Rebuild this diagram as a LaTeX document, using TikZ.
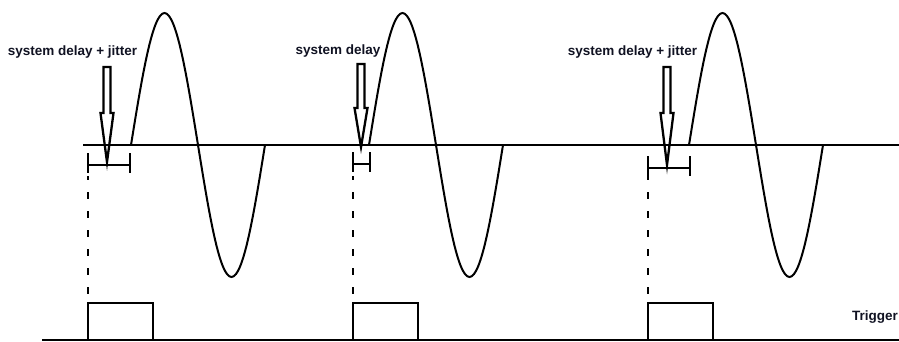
\documentclass[tikz,border=0pt]{standalone}
\usepackage{fontspec}
\setmainfont{Liberation Sans}
\usepackage{tikz}
\definecolor{labelink}{RGB}{16,18,34}

\begin{document}
\begin{tikzpicture}[x=1pt,y=-1pt,line width=2.3pt,
                      every node/.style={font=\bfseries\fontsize{13.5}{16}\selectfont,text=labelink}]
    \useasboundingbox (0,0) rectangle (899,341);
    % signal axis and trigger base line
    \draw (83,145)--(899,145);
    \draw (42,340)--(899,340);
    % one period of the sine after each delay
    \foreach \s in {131,369,689}
      \draw[line width=2pt] (\s,145) sin (\s+33.5,13) cos (\s+67,145)
                                   sin (\s+100.5,277) cos (\s+134,145);
    % delay brackets
    \foreach \a/\b/\y in {88/130/165,353/370/164,648/690/168} {
      \draw (\a,\y-12)--(\a,\y+8);
      \draw (\b,\y-12)--(\b,\y+8);
      \draw (\a,\y)--(\b,\y);
    }
    % block arrows
    \foreach \x/\t/\h/\p in {107/67/113/162,361/64/108/147,667/67/113/165}
      \draw[line join=miter] (\x-3.5,\t)--(\x+3.5,\t)--(\x+3.5,\h)--(\x+6.5,\h)
                             --(\x,\p)--(\x-6.5,\h)--(\x-3.5,\h)--cycle;
    % dashed drops and trigger pulses
    \foreach \x in {88,353,648} {
      \draw[dash pattern=on 7pt off 12pt,dash phase=3pt] (\x,176)--(\x,296);
      \draw (\x,340)--(\x,303)--(\x+65,303)--(\x+65,340);
    }
    \node (lbljit1) at (72.5,52) {system delay + jitter};
    \node (lbldel) at (338,51) {system delay};
    \node (lbljit2) at (632.5,52) {system delay + jitter};
    \node (lbltrig) at (875,317) {Trigger};
  \end{tikzpicture}
\end{document}
